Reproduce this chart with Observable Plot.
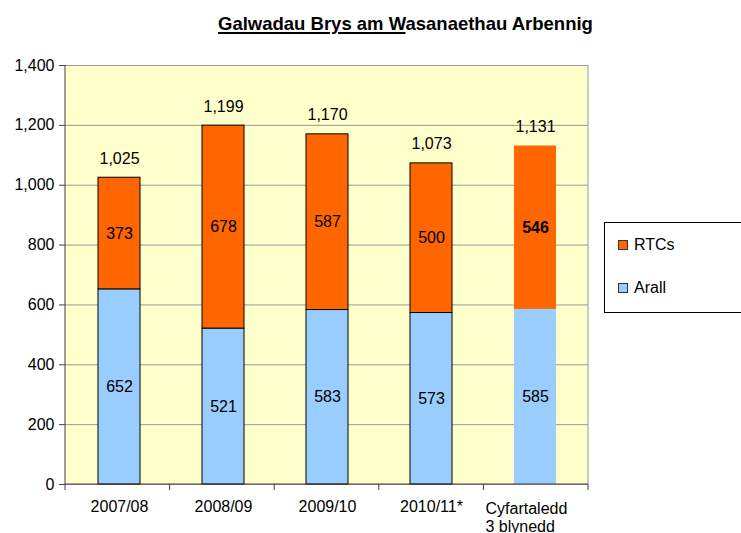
<!DOCTYPE html>
<html><head><meta charset="utf-8">
<script src="https://cdn.jsdelivr.net/npm/d3@7"></script>
<script src="https://cdn.jsdelivr.net/npm/@observablehq/plot@0.6"></script>
<style>
body{margin:0;background:#fff;font-family:"Liberation Sans",Arial,sans-serif;}
#wrap{position:relative;width:741px;height:533px;overflow:hidden;}
#title{position:absolute;left:218px;top:13px;font-size:18.5px;font-weight:bold;white-space:nowrap;color:#000;}
#title u{text-decoration-thickness:2px;text-underline-offset:2px;}
#legend{position:absolute;left:604px;top:222px;width:160px;height:89px;border:1px solid #000;background:#fff;}
.item{position:absolute;left:13px;font-size:16px;color:#000;display:flex;align-items:center;}
.sw{width:8px;height:8px;border:1px solid #333;margin-right:6px;}
svg{position:absolute;left:0;top:0;}
</style></head><body>
<div id="wrap">
<div id="chart"></div>
<div id="title"><u>Galwadau Brys am W</u>asanaethau Arbennig</div>
<div id="legend"></div>
</div>
<script>
const categories = ["2007/08", "2008/09", "2009/10", "2010/11*", "Cyfartaledd\n3 blynedd"];
const arall = [652, 521, 583, 573, 585];
const rtcs = [373, 678, 587, 500, 546];
const totals = [1025, 1199, 1170, 1073, 1131];
const seriesNames = ["Arall", "RTCs"];
const seriesColors = ["#99CCFF", "#FF6600"];
const yTicks = [0, 200, 400, 600, 800, 1000, 1200, 1400];

const data = [];
categories.forEach((c, i) => {
  data.push({cat: c, series: "Arall", value: arall[i], i});
  data.push({cat: c, series: "RTCs", value: rtcs[i], i});
});
const fmt = d3.format(",");
const lastIdx = categories.length - 1;
const lastCat = categories[lastIdx];
const outlined = data.filter(d => d.i < lastIdx);
const plain = data.filter(d => d.i === lastIdx);

const frameLines = (index, scales, values, dims) => {
  const {width, height, marginLeft: ml, marginRight: mr, marginTop: mt, marginBottom: mb} = dims;
  const g = d3.create("svg:g").attr("fill", "none");
  const xl = ml, xr = width - mr, yb = height - mb, yt = mt;
  g.append("line").attr("x1", xr).attr("x2", xr).attr("y1", yt).attr("y2", yb).attr("stroke", "#999");
  g.append("line").attr("x1", xl).attr("x2", xl).attr("y1", yt).attr("y2", yb).attr("stroke", "#404040");
  g.append("line").attr("x1", xl).attr("x2", xr).attr("y1", yb).attr("y2", yb).attr("stroke", "#404040");
  const n = categories.length;
  for (let k = 0; k <= n; k++) {
    const x = xl + k * (xr - xl) / n;
    g.append("line").attr("x1", x).attr("x2", x).attr("y1", yb).attr("y2", yb + 6).attr("stroke", "#404040");
  }
  return g.node();
};

const chart = Plot.plot({
  width: 741,
  height: 533,
  marginLeft: 65,
  marginRight: 153,
  marginTop: 65,
  marginBottom: 49,
  style: {fontSize: "16px", fontFamily: "'Liberation Sans', Arial, sans-serif", color: "#000", background: "transparent", overflow: "visible"},
  x: {domain: categories, paddingInner: 0.6, paddingOuter: 0.3, label: null},
  y: {domain: [0, 1400], label: null},
  color: {domain: seriesNames, range: seriesColors},
  marks: [
    Plot.frame({fill: "#FFFFCC", stroke: "none"}),
    Plot.gridY({ticks: yTicks, stroke: "#999", strokeOpacity: 1}),
    Plot.axisY({ticks: yTicks, tickFormat: fmt, tickSize: 6, tickPadding: 5, stroke: "#404040", fontSize: 16, label: null}),
    Plot.axisX({tickSize: 0, tickPadding: 16, fontSize: 16, tickFormat: d => d === lastCat ? "" : d, label: null}),
    Plot.text([lastCat], {x: d => d, frameAnchor: "bottom", lineAnchor: "top", textAnchor: "start", dx: -50, dy: 16, lineHeight: 1.15, fontSize: 16, fill: "#000"}),
    Plot.barY(outlined, Plot.stackY({x: "cat", y: "value", z: "series", fill: "series", stroke: "#000", strokeWidth: 1})),
    Plot.barY(plain, Plot.stackY({x: "cat", y: "value", z: "series", fill: "series"})),
    frameLines,
    Plot.text(outlined, Plot.stackY({x: "cat", y: "value", z: "series", text: d => fmt(d.value), fontSize: 16, fill: "#000"})),
    Plot.text(plain, Plot.stackY({x: "cat", y: "value", z: "series", text: d => d.series === "Arall" ? fmt(d.value) : "", fontSize: 16, fill: "#000"})),
    Plot.text(plain, Plot.stackY({x: "cat", y: "value", z: "series", text: d => d.series === "RTCs" ? fmt(d.value) : "", fontSize: 16, fontWeight: "bold", fill: "#000"})),
    Plot.text(categories, {x: d => d, y: (d, i) => totals[i], text: (d, i) => fmt(totals[i]), dy: -19, fontSize: 16, fill: "#000"})
  ]
});
document.getElementById("chart").appendChild(chart);

const legend = document.getElementById("legend");
const legendItems = [["RTCs", seriesColors[1], 13], ["Arall", seriesColors[0], 56]];
legendItems.forEach(([name, color, top]) => {
  const it = document.createElement("div");
  it.className = "item";
  it.style.top = top + "px";
  it.innerHTML = `<span class="sw" style="background:${color}"></span><span>${name}</span>`;
  legend.appendChild(it);
});
</script>
</body></html>
